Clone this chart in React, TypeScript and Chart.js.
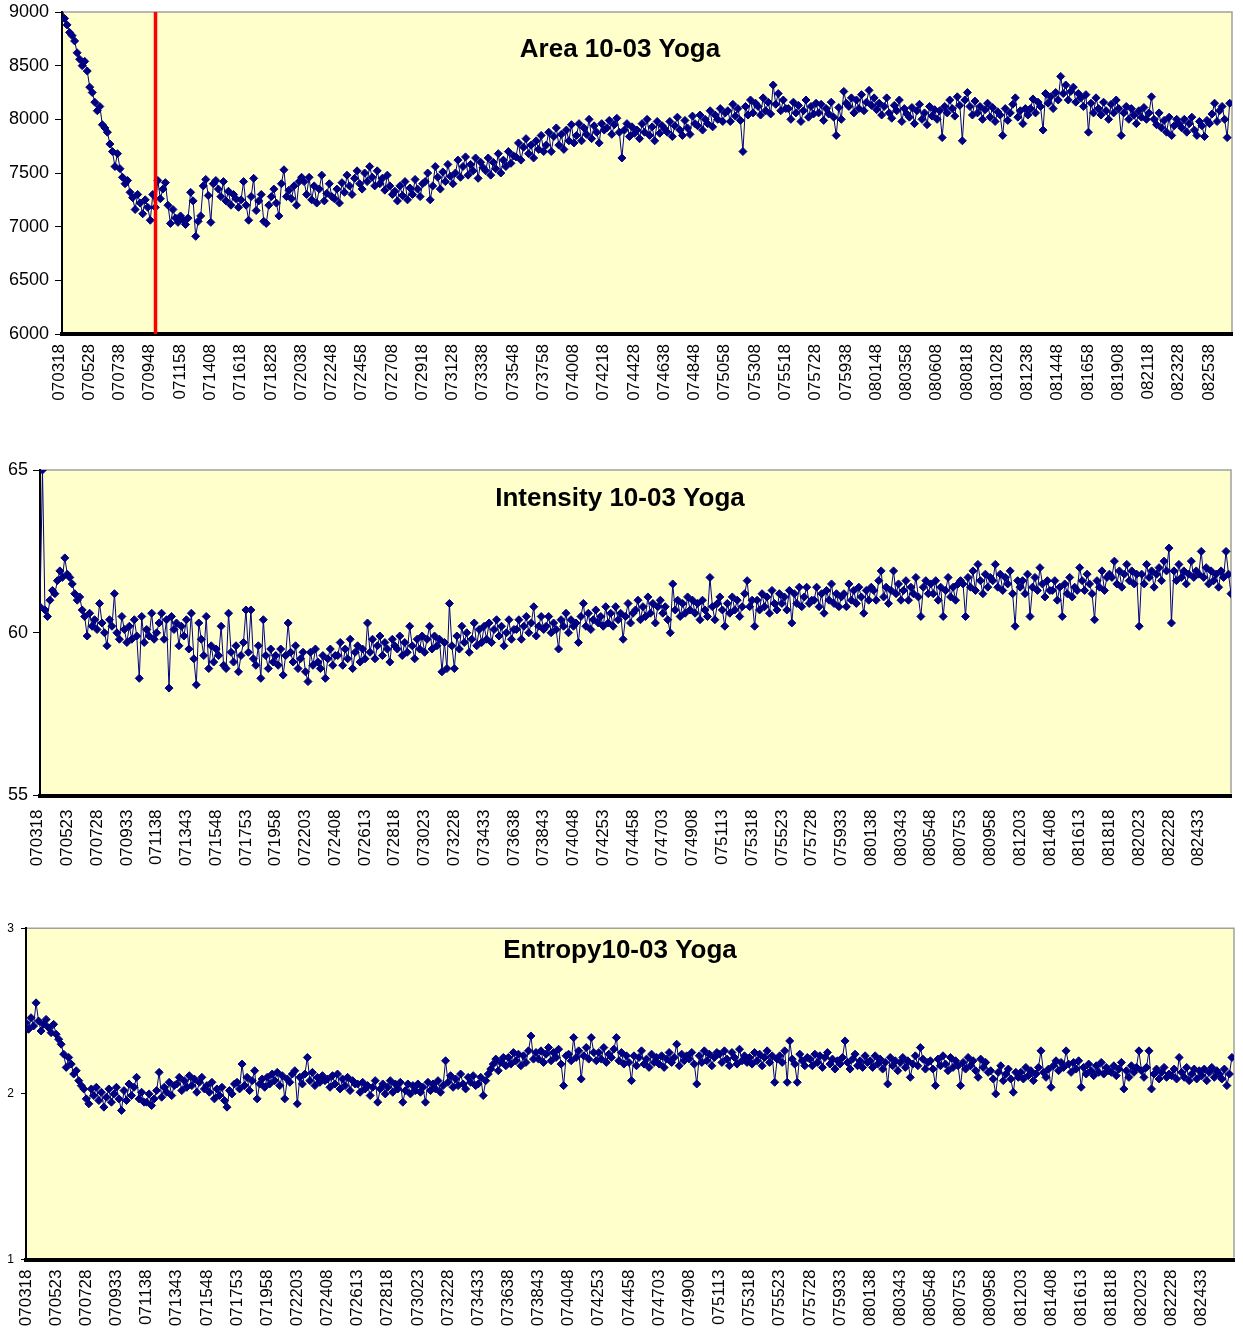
import React, { useEffect, useRef } from 'react';
import { Chart, registerables } from 'chart.js';

Chart.register(...registerables);

const FONT_FAMILY = '"Liberation Sans", Arial, Helvetica, sans-serif';
const NAVY = '#000080';

// Category tick labels (time stamps HHMMSS)
const AREA_TICK_LABELS = [
  '070318', '070528', '070738', '070948', '071158', '071408', '071618', '071828',
  '072038', '072248', '072458', '072708', '072918', '073128', '073338', '073548',
  '073758', '074008', '074218', '074428', '074638', '074848', '075058', '075308',
  '075518', '075728', '075938', '080148', '080358', '080608', '080818', '081028',
  '081238', '081448', '081658', '081908', '082118', '082328', '082538',
];

const TIME_TICK_LABELS = [
  '070318', '070523', '070728', '070933', '071138', '071343', '071548', '071753',
  '071958', '072203', '072408', '072613', '072818', '073023', '073228', '073433',
  '073638', '073843', '074048', '074253', '074458', '074703', '074908', '075113',
  '075318', '075523', '075728', '075933', '080138', '080343', '080548', '080753',
  '080958', '081203', '081408', '081613', '081818', '082023', '082228', '082433',
];

// samples between two consecutive tick labels
const POINTS_PER_LABEL = 12;

const AREA_VALUES = [
  9040, 8940, 8880, 8810, 8780, 8730, 8620, 8560, 8500, 8540, 8450, 8300,
  8250, 8160, 8080, 8120, 7950, 7920, 7880, 7770, 7700, 7560, 7680, 7540,
  7460, 7400, 7430, 7320, 7270, 7160, 7300, 7220, 7120, 7250, 7180, 7060,
  7300, 7180, 7430, 7260, 7350, 7410, 7200, 7030, 7160, 7080, 7040, 7100,
  7060, 7020, 7080, 7320, 7240, 6910, 7050, 7100, 7380, 7440, 7290, 7040,
  7400, 7430, 7350, 7280, 7420, 7240, 7330, 7200, 7300, 7260, 7180, 7250,
  7420, 7200, 7060, 7280, 7450, 7150, 7240, 7300, 7050, 7030, 7200, 7280,
  7350, 7220, 7100, 7400, 7530, 7280, 7340, 7260, 7380, 7200, 7420, 7460,
  7420, 7300, 7460, 7250, 7380, 7220, 7350, 7480, 7240, 7310, 7400, 7280,
  7260, 7350, 7220, 7410, 7320, 7480, 7380, 7300, 7450, 7520, 7400, 7350,
  7500, 7420, 7560, 7460, 7380, 7520, 7400, 7450, 7340, 7480, 7380, 7300,
  7330, 7240, 7380, 7290, 7420, 7250, 7360, 7300, 7440, 7350, 7280, 7400,
  7420, 7500, 7250, 7380, 7560, 7460, 7350, 7510, 7420, 7580, 7470, 7400,
  7500, 7620, 7460, 7560, 7650, 7480, 7580, 7520, 7640, 7450, 7600, 7550,
  7520, 7640, 7480, 7600, 7540, 7680, 7500, 7620, 7560, 7700, 7590, 7660,
  7650, 7780, 7620, 7740, 7820, 7680, 7760, 7640, 7800, 7720, 7850, 7700,
  7760, 7880, 7700, 7840, 7920, 7760, 7860, 7720, 7900, 7800, 7950, 7780,
  7850, 7960, 7800, 7920, 7860, 8000, 7820, 7940, 7880, 7780, 7960, 7900,
  7920, 7990, 7860, 7950, 8010, 7880, 7640, 7900, 7960, 7840, 7930, 7870,
  7900, 7820, 7960, 7880, 8000, 7850, 7930, 7800, 7980, 7870, 7940, 7910,
  7880, 7980, 7840, 7940, 8020, 7900, 7850, 7990, 7920, 7860, 8030, 7960,
  7940, 8040, 7900, 8000, 7960, 8080, 7930, 8040, 8000, 8100, 7980, 8060,
  8080, 7980, 8140, 8030, 8100, 7990, 7700, 8120, 8040, 8180, 8060, 8150,
  8120, 8040, 8200, 8080, 8160, 8050, 8320, 8140, 8240, 8080, 8180, 8100,
  8100, 8000, 8160, 8060, 8130, 7980, 8080, 8180, 8020, 8120, 8050, 8150,
  8060, 8140, 7990, 8100, 8050, 8160, 8020, 7850, 8110, 8000, 8260, 8150,
  8120, 8200, 8060, 8180, 8100, 8230, 8080, 8160, 8270, 8130, 8200, 8090,
  8150, 8040, 8120, 8200, 8060, 8010, 8130, 8080, 8180, 7980, 8100, 8050,
  8020, 8110, 7960, 8080, 8140, 8000, 8060, 7950, 8120, 8030, 8090, 8000,
  8080, 7830, 8120, 8060, 8180, 8100, 8030, 8210, 8130, 7800, 8180, 8250,
  8120, 8040, 8170, 8060, 8120, 8000, 8090, 8150, 8020, 8110, 7980, 8070,
  8040, 7850, 8100, 7990, 8060, 8140, 8200, 8020, 8080, 7960, 8100, 8040,
  8100, 8190, 8060, 8160, 8120, 7900, 8240, 8150, 8210, 8100, 8250, 8180,
  8400, 8240, 8320, 8180, 8260, 8300, 8160, 8240, 8200, 8120, 8230, 7880,
  8150, 8060, 8200, 8100, 8040, 8160, 8080, 8000, 8140, 8060, 8180, 8100,
  7850, 8060, 8120, 8000, 8100, 8040, 7960, 8080, 8020, 8110, 8000, 8060,
  8210, 8000, 7950, 8060, 7920, 7990, 7880, 8020, 7850, 7940, 8000, 7960,
  7920, 8000, 7880, 7960, 8020, 7900, 7850, 7980, 7940, 7840, 7990, 7960,
  8050, 8150, 7980, 8080, 8120, 8000, 7830, 8150,
];

const INTENSITY_VALUES = [
  60.8, 65.0, 60.7, 60.5, 61.0, 61.3, 61.2, 61.6, 61.9, 61.7, 62.3, 61.8,
  61.7, 61.5, 61.2, 61.0, 61.1, 60.7, 60.5, 59.9, 60.6, 60.2, 60.4, 60.1,
  60.9, 60.3, 60.0, 59.6, 60.4, 60.2, 61.2, 60.0, 59.8, 60.5, 60.1, 59.7,
  60.2, 59.8, 60.4, 59.9, 58.6, 60.5, 59.7, 60.1, 59.9, 60.6, 59.8, 60.0,
  60.3, 60.6, 59.8, 60.4, 58.3, 60.5, 60.1, 60.3, 59.6, 60.2, 59.9, 60.4,
  59.5, 60.6, 59.2, 58.4, 60.3, 59.8, 59.3, 60.5, 58.9, 59.6, 59.1, 59.5,
  59.3, 60.2, 59.0, 58.9, 60.6, 59.4, 59.1, 59.6, 58.8, 59.3, 59.7, 60.7,
  59.4, 60.7, 59.2, 59.0, 59.6, 58.6, 60.4, 59.3, 58.9, 59.5, 59.1, 59.3,
  59.0, 59.5, 58.7, 59.3, 60.3, 59.4, 59.1, 59.6, 58.9, 59.2, 59.4, 58.8,
  58.5, 59.4, 59.0, 59.5, 59.1, 58.9, 59.3, 58.6, 59.2, 59.5, 59.0, 59.3,
  59.3, 59.7, 59.0, 59.5, 59.2, 59.8, 58.9, 59.4, 59.6, 59.1, 59.5, 59.2,
  60.3, 59.4, 59.8, 59.2, 59.6, 59.9, 59.3, 59.7, 59.5, 59.1, 59.8, 59.6,
  59.5, 59.9, 59.3, 59.7, 59.4, 60.2, 59.6, 59.2, 59.8, 59.5, 59.9, 59.4,
  59.8, 60.2, 59.5, 59.9, 59.6, 59.8, 58.8, 59.7, 58.9, 60.9, 59.6, 58.9,
  59.9, 59.5, 60.2, 59.7, 60.0, 59.4, 59.8, 60.3, 59.6, 60.1, 59.7, 60.2,
  59.8, 60.3, 59.7, 60.1, 60.4, 59.9, 60.2, 59.6, 60.0, 60.4, 59.8, 60.1,
  60.1, 60.4, 59.8, 60.2, 60.5, 60.0, 60.3, 60.8, 59.9, 60.2, 60.5, 60.1,
  60.2, 60.5, 60.0, 60.3, 60.1, 59.5, 60.4, 60.2, 60.6, 60.0, 60.4, 60.2,
  60.3, 59.7, 60.5, 60.9, 60.2, 60.6, 60.1, 60.4, 60.7, 60.3, 60.5, 60.2,
  60.8, 60.3, 60.6, 60.2, 60.8, 60.4, 60.6, 59.8, 60.5, 60.9, 60.3, 60.6,
  60.7, 61.0, 60.4, 60.8, 60.5, 61.1, 60.6, 60.9, 60.3, 60.8, 61.0, 60.6,
  60.8, 60.4, 60.0, 61.5, 60.7, 61.0, 60.5, 60.9, 60.6, 61.1, 60.7, 61.0,
  60.6, 60.9, 60.4, 61.0, 60.7, 60.5, 61.7, 60.8, 60.4, 60.9, 61.1, 60.7,
  60.2, 60.9, 60.6, 61.1, 60.7, 61.0, 60.5, 60.8, 61.2, 61.6, 60.8, 61.0,
  60.2, 61.0, 60.7, 61.2, 60.8, 61.1, 60.6, 61.3, 60.9, 60.7, 61.2, 60.9,
  61.1, 60.7, 61.3, 60.3, 61.2, 60.9, 61.4, 60.8, 61.1, 61.4, 60.9, 61.0,
  61.0, 61.4, 60.8, 61.2, 60.6, 61.3, 61.0, 61.5, 60.9, 61.2, 60.8, 61.1,
  61.2, 60.8, 61.5, 61.0, 61.3, 60.9, 61.4, 61.1, 60.6, 61.3, 61.0, 61.4,
  61.3, 61.0, 61.6, 61.9, 61.1, 61.4, 60.9, 61.3, 61.9, 61.2, 61.5, 61.0,
  61.3, 61.6, 61.0, 61.4, 61.2, 61.7, 61.1, 60.5, 61.4, 61.6, 61.2, 61.5,
  61.2, 61.6, 61.0, 61.4, 60.5, 61.3, 61.7, 61.1, 61.4, 61.0, 61.5, 61.6,
  61.5, 60.5, 61.7, 61.4, 61.9, 61.3, 62.1, 61.6, 61.2, 61.8, 61.4, 61.7,
  61.6, 62.1, 61.4, 61.8, 61.3, 61.7, 61.5, 61.9, 61.2, 60.2, 61.6, 61.4,
  61.6, 61.2, 61.8, 60.5, 61.4, 61.7, 61.3, 62.0, 61.5, 61.1, 61.6, 61.3,
  61.3, 61.6, 61.0, 61.4, 60.5, 61.5, 61.2, 61.7, 61.1, 61.4, 61.3, 62.0,
  61.6, 61.3, 61.8, 61.5, 61.2, 60.4, 61.6, 61.4, 61.9, 61.3, 61.7, 61.8,
  61.7, 62.2, 61.5, 61.9, 61.4, 61.8, 62.1, 61.6, 61.9, 61.5, 61.8, 60.2,
  61.8, 61.5, 62.1, 61.7, 61.9, 61.4, 61.8, 62.0, 61.6, 62.2, 61.9, 62.6,
  60.3, 61.9, 61.6, 62.1, 61.7, 61.9, 61.5, 61.8, 62.2, 61.7, 61.9, 61.8,
  62.5, 61.7, 62.0, 61.5, 61.9, 61.6, 61.8, 61.4, 61.9, 61.7, 62.5, 61.8,
  61.2,
];

const ENTROPY_VALUES = [
  2.43, 2.39, 2.46, 2.41, 2.55, 2.44, 2.38, 2.42, 2.45, 2.40, 2.37, 2.42,
  2.36, 2.33, 2.30, 2.24, 2.16, 2.22, 2.18, 2.12, 2.14, 2.08, 2.05, 2.03,
  1.97, 1.94, 2.03, 1.99, 2.04, 1.96, 2.01, 1.92, 1.98, 2.03, 1.95, 2.00,
  2.04, 1.97, 1.90, 2.02, 1.96, 2.06, 1.99, 2.04, 2.10, 1.97, 2.01, 1.95,
  1.95, 2.00, 1.93, 1.97, 2.02, 2.13, 1.98, 2.04, 2.01, 2.07, 1.99, 2.05,
  2.06, 2.10, 2.02, 2.08, 2.04, 2.11, 2.05, 2.09, 2.01, 2.07, 2.10, 2.03,
  2.05, 2.01, 2.07, 1.97, 2.03, 1.99, 2.04, 1.96, 1.92, 2.02, 2.00, 2.06,
  2.07, 2.03, 2.18, 2.05, 2.10, 2.02, 2.08, 2.14, 1.97, 2.06, 2.09, 2.04,
  2.10, 2.06, 2.12, 2.08, 2.13, 2.05, 2.11, 1.97, 2.09, 2.07, 2.12, 2.14,
  1.94, 2.10, 2.06, 2.12, 2.22, 2.08, 2.13, 2.05, 2.10, 2.07, 2.11, 2.08,
  2.09, 2.04, 2.11, 2.06, 2.12, 2.03, 2.09, 2.05, 2.10, 2.02, 2.08, 2.06,
  2.06, 2.01, 2.07, 2.03, 2.05, 1.99, 2.04, 2.08, 1.95, 2.03, 2.06, 2.00,
  2.04, 2.08, 2.01, 2.06, 2.03, 2.07, 1.95, 2.02, 2.06, 2.00, 2.05, 2.02,
  2.06, 2.01, 2.04, 1.95, 2.07, 2.02, 2.06, 2.03, 2.08, 2.01, 2.05, 2.20,
  2.07, 2.11, 2.04, 2.09, 2.05, 2.12, 2.06, 2.03, 2.10, 2.07, 2.11, 2.05,
  2.06, 2.10, 1.99, 2.08, 2.12, 2.15, 2.18, 2.21, 2.14, 2.19, 2.22, 2.17,
  2.22, 2.18, 2.25, 2.20, 2.24, 2.17, 2.23, 2.19, 2.26, 2.35, 2.21, 2.25,
  2.21, 2.26, 2.19, 2.24, 2.28, 2.20, 2.25, 2.22, 2.27, 2.18, 2.05, 2.23,
  2.24, 2.20, 2.34, 2.22, 2.26, 2.09, 2.23, 2.28, 2.21, 2.34, 2.25, 2.20,
  2.25, 2.21, 2.28, 2.19, 2.24, 2.22, 2.27, 2.34, 2.20, 2.25, 2.18, 2.23,
  2.19, 2.08, 2.23, 2.17, 2.22, 2.26, 2.18, 2.21, 2.16, 2.24, 2.19, 2.22,
  2.18, 2.23, 2.16, 2.21, 2.25, 2.19, 2.22, 2.30, 2.17, 2.24, 2.20, 2.23,
  2.21, 2.25, 2.18, 2.06, 2.23, 2.19, 2.26, 2.20, 2.24, 2.17, 2.22, 2.25,
  2.24, 2.19, 2.26, 2.21, 2.17, 2.25, 2.22, 2.18, 2.27, 2.20, 2.23, 2.19,
  2.22, 2.18, 2.25, 2.20, 2.24, 2.17, 2.22, 2.26, 2.19, 2.23, 2.07, 2.21,
  2.23, 2.19, 2.26, 2.07, 2.32, 2.21, 2.18, 2.07, 2.24, 2.20, 2.17, 2.22,
  2.21, 2.17, 2.24, 2.19, 2.23, 2.16, 2.22, 2.25, 2.18, 2.21, 2.15, 2.20,
  2.18, 2.22, 2.32, 2.19, 2.15, 2.21, 2.24, 2.17, 2.20, 2.16, 2.23, 2.19,
  2.20, 2.16, 2.23, 2.18, 2.21, 2.15, 2.19, 2.06, 2.22, 2.17, 2.20, 2.14,
  2.19, 2.22, 2.16, 2.20, 2.10, 2.18, 2.23, 2.17, 2.28, 2.21, 2.15, 2.19,
  2.20, 2.15, 2.05, 2.21, 2.17, 2.23, 2.18, 2.14, 2.22, 2.16, 2.20, 2.17,
  2.05, 2.19, 2.15, 2.22, 2.17, 2.20, 2.14, 2.10, 2.21, 2.16, 2.19, 2.13,
  2.14, 2.09, 2.00, 2.13, 2.17, 2.08, 2.12, 2.15, 2.09, 2.01, 2.13, 2.10,
  2.13, 2.09, 2.16, 2.11, 2.14, 2.08, 2.12, 2.16, 2.26, 2.13, 2.10, 2.15,
  2.04, 2.17, 2.20, 2.14, 2.19, 2.16, 2.26, 2.18, 2.13, 2.19, 2.15, 2.20,
  2.04, 2.16, 2.12, 2.18, 2.14, 2.11, 2.17, 2.13, 2.19, 2.12, 2.16, 2.14,
  2.13, 2.17, 2.11, 2.15, 2.19, 2.03, 2.14, 2.10, 2.17, 2.13, 2.16, 2.26,
  2.14, 2.10, 2.16, 2.26, 2.03, 2.12, 2.15, 2.09, 2.13, 2.16, 2.10, 2.12,
  2.11, 2.15, 2.09, 2.22, 2.13, 2.10, 2.16, 2.08, 2.12, 2.15, 2.09, 2.14,
  2.11, 2.15, 2.08, 2.13, 2.16, 2.10, 2.14, 2.12, 2.09, 2.15, 2.05, 2.12,
  2.22,
];

// position of the red marker line (in tick-label units)
const AREA_MARK_AT = 3.09;

interface PanelSpec {
  id: string;
  title: string;
  labels: string[];
  values: number[];
  xMax: number;
  yMin: number;
  yMax: number;
  yStep: number;
  canvasTop: number;
  canvasHeight: number;
  plotTop: number;
  plotBottom: number;
  plotLeft: number;
  plotRight: number;
  yFontSize: number;
  yTickLength: number;
  yPadding: number;
  xLabelOffset: number;
  xLabelPadding: number;
  titleBaseline: number;
  markAt?: number;
}

const PANELS: PanelSpec[] = [
  {
    id: 'area', title: 'Area 10-03 Yoga', labels: AREA_TICK_LABELS, values: AREA_VALUES,
    xMax: 38.66, yMin: 6000, yMax: 9000, yStep: 500,
    canvasTop: 0, canvasHeight: 420, plotTop: 12, plotBottom: 334, plotLeft: 62, plotRight: 1232,
    yFontSize: 18, yTickLength: 7, yPadding: 6, xLabelOffset: -3, xLabelPadding: 10,
    titleBaseline: 57, markAt: AREA_MARK_AT,
  },
  {
    id: 'intensity', title: 'Intensity 10-03 Yoga', labels: TIME_TICK_LABELS, values: INTENSITY_VALUES,
    xMax: 40, yMin: 55, yMax: 65, yStep: 5,
    canvasTop: 430, canvasHeight: 440, plotTop: 470, plotBottom: 795.5, plotLeft: 40, plotRight: 1231,
    yFontSize: 18, yTickLength: 7, yPadding: 5, xLabelOffset: -2.5, xLabelPadding: 14,
    titleBaseline: 506,
  },
  {
    id: 'entropy', title: 'Entropy10-03 Yoga', labels: TIME_TICK_LABELS, values: ENTROPY_VALUES,
    xMax: 40.07, yMin: 1, yMax: 3, yStep: 1,
    canvasTop: 880, canvasHeight: 454, plotTop: 928.3, plotBottom: 1259.5, plotLeft: 26, plotRight: 1234,
    yFontSize: 12, yTickLength: 5, yPadding: 7, xLabelOffset: 0, xLabelPadding: 10,
    titleBaseline: 958,
  },
];

function makeFramePlugin(spec: PanelSpec) {
  return {
    id: 'excelFrame_' + spec.id,
    beforeDraw(chart: any) {
      const { ctx, chartArea: a } = chart;
      ctx.save();
      ctx.fillStyle = '#FFFFFF';
      ctx.fillRect(0, 0, chart.width, chart.height);
      ctx.fillStyle = '#FFFFCC';
      ctx.fillRect(a.left, a.top, a.right - a.left, a.bottom - a.top);
      ctx.restore();
    },
    beforeDatasetsDraw(chart: any) {
      const { ctx, chartArea: a } = chart;
      ctx.save();
      ctx.strokeStyle = '#A0A0A0';
      ctx.lineWidth = 1.5;
      ctx.beginPath();
      ctx.moveTo(a.left + 1, a.top);
      ctx.lineTo(a.right, a.top);
      ctx.lineTo(a.right, a.bottom - 2);
      ctx.stroke();
      ctx.restore();
    },
    afterDraw(chart: any) {
      const { ctx } = chart;
      ctx.save();
      ctx.fillStyle = '#000000';
      ctx.font = `bold 26px ${FONT_FAMILY}`;
      ctx.textAlign = 'center';
      ctx.textBaseline = 'alphabetic';
      ctx.fillText(spec.title, 620, spec.titleBaseline - spec.canvasTop);
      ctx.restore();
    },
  };
}

function Panel({ spec }: { spec: PanelSpec }) {
  const ref = useRef<HTMLCanvasElement>(null);

  useEffect(() => {
    const canvas = ref.current;
    if (!canvas) return;

    const datasets: any[] = [
      {
        type: 'line',
        label: spec.title,
        data: spec.values.map((v, i) => ({ x: i / POINTS_PER_LABEL, y: v })),
        borderColor: NAVY,
        backgroundColor: NAVY,
        borderWidth: 1,
        pointStyle: 'rectRot',
        pointRadius: 4,
        pointBorderWidth: 1,
        pointBackgroundColor: NAVY,
        pointBorderColor: NAVY,
        tension: 0,
        fill: false,
        order: 0,
      },
    ];
    if (spec.markAt !== undefined) {
      datasets.push({
        type: 'line',
        label: 'mark',
        data: [
          { x: spec.markAt, y: spec.yMin },
          { x: spec.markAt, y: spec.yMax },
        ],
        borderColor: '#FF0000',
        borderWidth: 3.5,
        pointRadius: 0,
        fill: false,
        order: -1,
      });
    }

    const xAxisHeight = spec.canvasHeight - (spec.plotBottom - spec.canvasTop);

    const chart = new Chart(canvas, {
      type: 'line',
      data: { datasets },
      options: {
        animation: false,
        responsive: false,
        devicePixelRatio: 1,
        events: [],
        layout: {
          padding: {
            top: spec.plotTop - spec.canvasTop,
            right: 1243 - spec.plotRight,
            bottom: 0,
            left: 0,
          },
        },
        plugins: {
          legend: { display: false },
          tooltip: { enabled: false },
          title: { display: false },
        },
        scales: {
          x: {
            type: 'linear',
            min: 0,
            max: spec.xMax,
            grid: { display: false, drawTicks: false },
            border: { display: true, color: '#000000', width: 4 },
            afterBuildTicks: (scale: any) => {
              scale.ticks = spec.labels.map((_, i) => ({ value: i }));
            },
            afterFit: (scale: any) => {
              scale.height = xAxisHeight;
              scale.paddingLeft = 0;
              scale.paddingRight = 0;
            },
            ticks: {
              autoSkip: false,
              maxRotation: 90,
              minRotation: 90,
              padding: spec.xLabelPadding,
              labelOffset: spec.xLabelOffset,
              color: '#000000',
              font: { family: FONT_FAMILY, size: 17 },
              callback: (value: any) => spec.labels[Math.round(Number(value))] ?? '',
            },
          },
          y: {
            type: 'linear',
            min: spec.yMin,
            max: spec.yMax,
            grid: {
              display: true,
              drawOnChartArea: false,
              drawTicks: true,
              tickLength: spec.yTickLength,
              color: '#000000',
            },
            border: { display: true, color: '#000000', width: 2 },
            afterFit: (scale: any) => {
              scale.width = spec.plotLeft;
              scale.paddingTop = 0;
              scale.paddingBottom = 0;
            },
            ticks: {
              stepSize: spec.yStep,
              padding: spec.yPadding,
              color: '#000000',
              font: { family: FONT_FAMILY, size: spec.yFontSize },
              callback: (value: any) => String(value),
            },
          },
        },
      } as any,
      plugins: [makeFramePlugin(spec)],
    });

    return () => chart.destroy();
  }, [spec]);

  return (
    <canvas
      ref={ref}
      width={1243}
      height={spec.canvasHeight}
      style={{
        position: 'absolute',
        left: 0,
        top: spec.canvasTop,
        width: 1243,
        height: spec.canvasHeight,
        display: 'block',
      }}
    />
  );
}

export default function App() {
  return (
    <div
      style={{
        position: 'absolute',
        left: 0,
        top: 0,
        width: 1243,
        height: 1334,
        background: '#FFFFFF',
        overflow: 'hidden',
      }}
    >
      {PANELS.map((p) => (
        <Panel key={p.id} spec={p} />
      ))}
    </div>
  );
}
